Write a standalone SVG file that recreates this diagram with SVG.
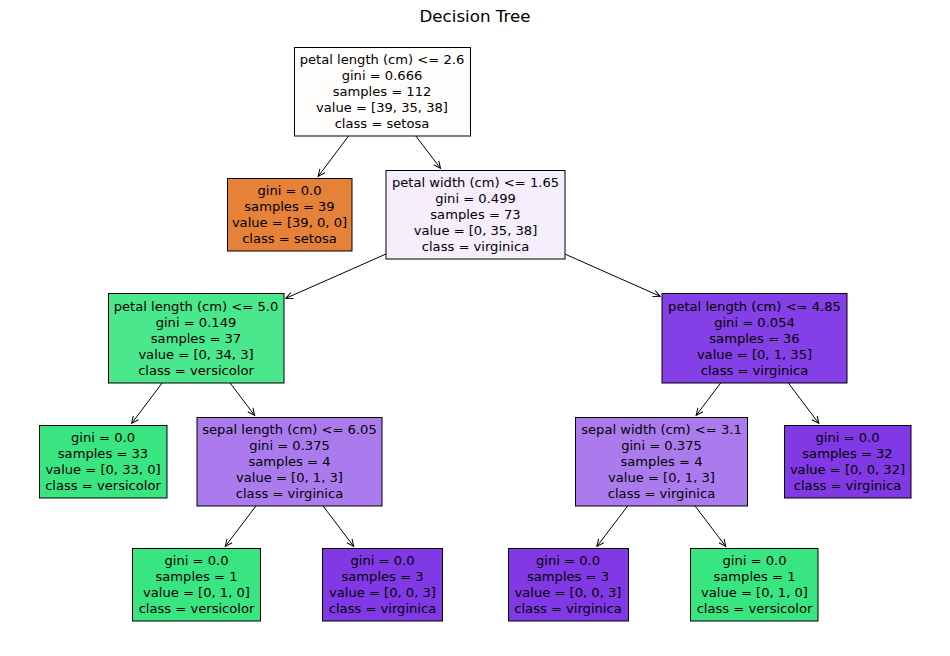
<svg xmlns="http://www.w3.org/2000/svg" width="950" height="656" viewBox="0 0 950 656">
<style>
text{font-family:"DejaVu Sans","Liberation Sans",sans-serif;font-size:13.1px;fill:#000;text-anchor:middle}
.title{font-size:16.67px}
rect{stroke:#000;stroke-width:1}
.e{stroke:#000;stroke-width:1;fill:none;marker-end:url(#ah)}
</style>
<defs>
<marker id="ah" markerUnits="userSpaceOnUse" markerWidth="12" markerHeight="12" viewBox="-10 -6 12 12" refX="0" refY="0" orient="auto">
<path d="M-7,-3.2 L0,0 L-7,3.2" fill="none" stroke="#000" stroke-width="1"/>
</marker>
</defs>
<rect x="0" y="0" width="950" height="656" fill="#fff" style="stroke:none"/>
<text class="title" x="475" y="22">Decision Tree</text>
<g id="connectors">
<line class="e" x1="348.5" y1="136" x2="318.2" y2="176.4"/>
<line class="e" x1="415.8" y1="136" x2="440.5" y2="168.4"/>
<line class="e" x1="386" y1="254" x2="285.8" y2="298.3"/>
<line class="e" x1="565" y1="254.1" x2="660.2" y2="296.3"/>
<line class="e" x1="162.1" y1="383" x2="131.7" y2="423.4"/>
<line class="e" x1="230.1" y1="383" x2="254.6" y2="415.4"/>
<line class="e" x1="720.6" y1="383" x2="696.2" y2="415.4"/>
<line class="e" x1="788.4" y1="383" x2="818.8" y2="423.4"/>
<line class="e" x1="255.9" y1="506" x2="225.3" y2="546.4"/>
<line class="e" x1="323.1" y1="506" x2="353.7" y2="546.4"/>
<line class="e" x1="627.7" y1="506" x2="596.9" y2="546.4"/>
<line class="e" x1="695.1" y1="506" x2="725.7" y2="546.4"/>
</g>
<g id="n0">
<rect x="294.5" y="47.5" width="176" height="88.5" fill="#fefdfc"/>
<text x="382" y="64">petal length (cm) &lt;= 2.6</text>
<text x="382" y="80">gini = 0.666</text>
<text x="382" y="96">samples = 112</text>
<text x="382" y="112">value = [39, 35, 38]</text>
<text x="382" y="128">class = setosa</text>
</g>
<g id="n1">
<rect x="227.5" y="178.5" width="124.5" height="72.5" fill="#e58139"/>
<text x="289.5" y="195">gini = 0.0</text>
<text x="289.5" y="211">samples = 39</text>
<text x="289.5" y="227">value = [39, 0, 0]</text>
<text x="289.5" y="243">class = setosa</text>
</g>
<g id="n2">
<rect x="386" y="170.5" width="179" height="88.5" fill="#f4eefd"/>
<text x="475.5" y="187">petal width (cm) &lt;= 1.65</text>
<text x="475.5" y="203">gini = 0.499</text>
<text x="475.5" y="219">samples = 73</text>
<text x="475.5" y="235">value = [0, 35, 38]</text>
<text x="475.5" y="251">class = virginica</text>
</g>
<g id="n3">
<rect x="108.5" y="293.5" width="175.5" height="89.5" fill="#4ae78c"/>
<text x="196" y="310.5">petal length (cm) &lt;= 5.0</text>
<text x="196" y="326.5">gini = 0.149</text>
<text x="196" y="342.5">samples = 37</text>
<text x="196" y="358.5">value = [0, 34, 3]</text>
<text x="196" y="374.5">class = versicolor</text>
</g>
<g id="n4">
<rect x="39.5" y="425.5" width="127.5" height="72.5" fill="#39e581"/>
<text x="103" y="442">gini = 0.0</text>
<text x="103" y="458">samples = 33</text>
<text x="103" y="474">value = [0, 33, 0]</text>
<text x="103" y="490">class = versicolor</text>
</g>
<g id="n5">
<rect x="197" y="417.5" width="185" height="88.5" fill="#ab7bee"/>
<text x="289.5" y="434">sepal length (cm) &lt;= 6.05</text>
<text x="289.5" y="450">gini = 0.375</text>
<text x="289.5" y="466">samples = 4</text>
<text x="289.5" y="482">value = [0, 1, 3]</text>
<text x="289.5" y="498">class = virginica</text>
</g>
<g id="n6">
<rect x="132.5" y="548.5" width="128" height="72.5" fill="#39e581"/>
<text x="196.5" y="565">gini = 0.0</text>
<text x="196.5" y="581">samples = 1</text>
<text x="196.5" y="597">value = [0, 1, 0]</text>
<text x="196.5" y="613">class = versicolor</text>
</g>
<g id="n7">
<rect x="322.5" y="548.5" width="120" height="72.5" fill="#8139e5"/>
<text x="382.5" y="565">gini = 0.0</text>
<text x="382.5" y="581">samples = 3</text>
<text x="382.5" y="597">value = [0, 0, 3]</text>
<text x="382.5" y="613">class = virginica</text>
</g>
<g id="n8">
<rect x="662" y="293.5" width="185" height="89.5" fill="#853fe6"/>
<text x="754.5" y="310.5">petal length (cm) &lt;= 4.85</text>
<text x="754.5" y="326.5">gini = 0.054</text>
<text x="754.5" y="342.5">samples = 36</text>
<text x="754.5" y="358.5">value = [0, 1, 35]</text>
<text x="754.5" y="374.5">class = virginica</text>
</g>
<g id="n9">
<rect x="575.5" y="417.5" width="172" height="88.5" fill="#ab7bee"/>
<text x="661.5" y="434">sepal width (cm) &lt;= 3.1</text>
<text x="661.5" y="450">gini = 0.375</text>
<text x="661.5" y="466">samples = 4</text>
<text x="661.5" y="482">value = [0, 1, 3]</text>
<text x="661.5" y="498">class = virginica</text>
</g>
<g id="n10">
<rect x="508.5" y="548.5" width="120" height="72.5" fill="#8139e5"/>
<text x="568" y="565">gini = 0.0</text>
<text x="568" y="581">samples = 3</text>
<text x="568" y="597">value = [0, 0, 3]</text>
<text x="568" y="613">class = virginica</text>
</g>
<g id="n11">
<rect x="690.5" y="548.5" width="127.5" height="72.5" fill="#39e581"/>
<text x="754.5" y="565">gini = 0.0</text>
<text x="754.5" y="581">samples = 1</text>
<text x="754.5" y="597">value = [0, 1, 0]</text>
<text x="754.5" y="613">class = versicolor</text>
</g>
<g id="n12">
<rect x="784.5" y="425.5" width="126.5" height="72.5" fill="#8139e5"/>
<text x="847.5" y="442">gini = 0.0</text>
<text x="847.5" y="458">samples = 32</text>
<text x="847.5" y="474">value = [0, 0, 32]</text>
<text x="847.5" y="490">class = virginica</text>
</g>
</svg>
